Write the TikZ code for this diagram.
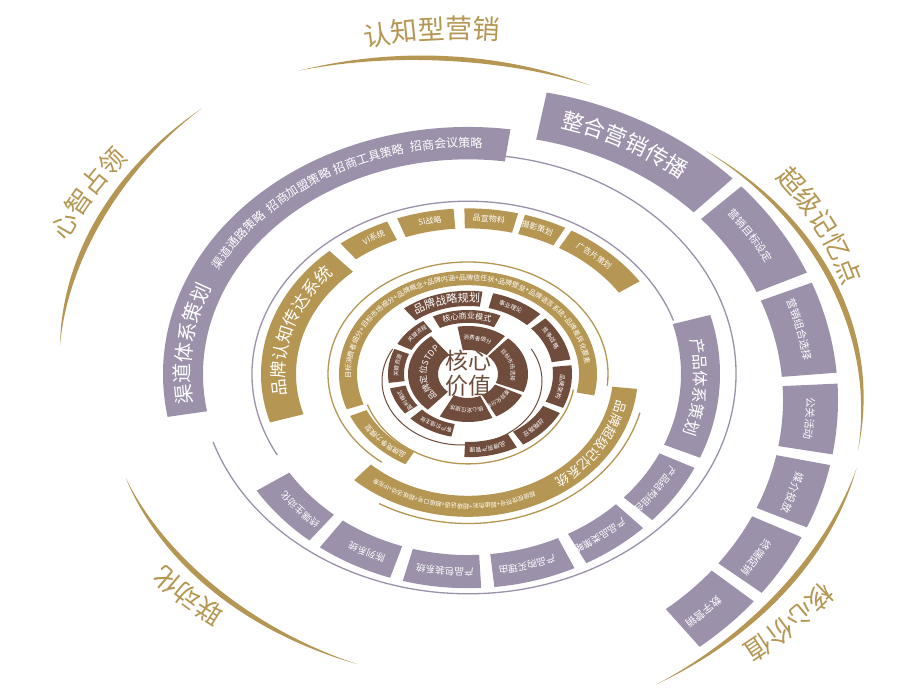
\documentclass[tikz,border=0pt]{standalone}
\usepackage{fontspec}
\setmainfont{Noto Sans CJK SC}
\usetikzlibrary{decorations.text}
\definecolor{cpurple}{RGB}{155,145,171}
\definecolor{cgold}{RGB}{181,150,82}
\definecolor{cbrown}{RGB}{112,76,60}
\tikzset{
  thinpurple/.style={draw=cpurple, line width=1.3},
  thingold/.style={draw=cgold, line width=1.3},
  thinbrown/.style={draw=cbrown, line width=1},
}
% ring centre, squash and radii (changed per ring)
\def\rcx{468}\def\rcy{325}\def\rk{0.8}\def\ri{30}\def\ro{60}
% text along an elliptic arc: centre angle, half span, radius, size, colour, text
\newcommand\arctext[6]{%
  \pgfmathsetmacro\ArcA{(#1)+(#2)}\pgfmathsetmacro\ArcB{(#1)-(#2)}\pgfmathsetmacro\ArcY{(#3)*\rk}%
  \path[shift={(\rcx,\rcy)},decorate,decoration={text along path,text align=center,
    text={|\fontsize{#4}{#4}\selectfont\color{#5}|#6}}]
    ({\ArcA}:{#3} and {\ArcY}) arc[start angle=\ArcA,end angle=\ArcB,x radius=#3,y radius=\ArcY];}
% filled ring piece: from, to, colour
\newcommand\segfill[3]{%
  \pgfmathsetmacro\SegYi{\ri*\rk}\pgfmathsetmacro\SegYo{\ro*\rk}%
  \fill[#3,shift={(\rcx,\rcy)}] ({#1}:{\ro} and {\SegYo}) arc[start angle=#1,end angle=#2,x radius=\ro,y radius=\SegYo]
    -- ({#2}:{\ri} and {\SegYi}) arc[start angle=#2,end angle=#1,x radius=\ri,y radius=\SegYi] -- cycle;}
% ring piece with its label
\newcommand\seg[5]{%
  \segfill{#1}{#2}{#3}%
  \pgfmathsetmacro\SegM{((#1)+(#2))/2}\pgfmathsetmacro\SegH{((#1)-(#2))/2+25}%
  \pgfmathsetmacro\SegR{(\ri+\ro)/2-0.38*(#4)}%
  \arctext{\SegM}{\SegH}{\SegR}{#4}{white}{#5}}
% thin elliptic arc: style, cx, cy, rx, squash, from, to
\newcommand\ellarc[7]{%
  \pgfmathsetmacro\ArcY{(#4)*(#5)}%
  \draw[#1,shift={(#2,#3)}] ({#6}:{#4} and {\ArcY}) arc[start angle=#6,end angle=#7,x radius=#4,y radius=\ArcY];}
% tapered outer gold arc: from, to, r1, r2, width
\def\ocx{459}\def\ocy{332}\def\ok{0.785}
\newcommand\crescent[5]{%
  \fill[cgold] plot[domain=0:1,samples=60,variable=\t]
    ({\ocx+((#3)+((#4)-(#3))*\t)*cos((#1)+((#2)-(#1))*\t)},{\ocy+\ok*((#3)+((#4)-(#3))*\t)*sin((#1)+((#2)-(#1))*\t)})
    -- plot[domain=1:0,samples=60,variable=\t]
    ({\ocx+((#3)+((#4)-(#3))*\t-(#5)*sin(180*\t))*cos((#1)+((#2)-(#1))*\t)},{\ocy+\ok*((#3)+((#4)-(#3))*\t-(#5)*sin(180*\t))*sin((#1)+((#2)-(#1))*\t)}) -- cycle;}
\begin{document}
\begin{tikzpicture}[x=1pt,y=1pt]
\useasboundingbox (0,0) rectangle (901,699);
\fill[white] (0,0) rectangle (901,699);

% outer gold arcs and their words
\crescent{113}{70}{410}{382}{6}
\crescent{48}{-15}{370}{413}{6}
\crescent{-18}{-64}{418}{450}{6}
\crescent{255}{203}{392}{362}{6}
\crescent{176}{128}{400}{418}{6}
\begin{scope}
  \def\rcx{459}\def\rcy{332}\def\rk{0.785}
  \arctext{94}{40}{418}{27}{cgold}{认知型营销}
  \arctext{24}{40}{398}{26}{cgold}{超级记忆点}
  \arctext{-41.5}{40}{455}{26}{cgold}{核心价值}
  \arctext{224}{40}{388}{26}{cgold}{联动化}
  \arctext{152}{40}{424}{26}{cgold}{心智占领}
\end{scope}

% outer purple ring
\begin{scope}
  \def\rcx{478}\def\rcy{299}\def\rk{0.87}\def\ri{305}\def\ro{360}
  \seg{79}{45}{cpurple}{22}{整合营销传播}
  \seg{43}{24}{cpurple}{10.5}{营销目标设定}
  \seg{22}{5}{cpurple}{10.5}{营销组合选择}
  \seg{3}{-10}{cpurple}{10.5}{公关活动}
  \seg{-12}{-24}{cpurple}{10.5}{媒介投放}
  \seg{-26}{-38}{cpurple}{10.5}{终端促销}
  \seg{-40}{-52}{cpurple}{10.5}{数字营销}
\end{scope}

% channel ring
\begin{scope}
  \def\rk{0.81}\def\ri{265}\def\ro{305}
  \segfill{190}{82}{cpurple}
  \arctext{173}{40}{278}{20}{white}{渠道体系策划}
  \arctext{145}{20}{280}{12}{white}{渠道通路策略}
  \arctext{127.5}{20}{280}{12}{white}{招商加盟策略}
  \arctext{111}{20}{280}{12}{white}{招商工具策略}
  \arctext{94.5}{20}{280}{12}{white}{招商会议策略}
\end{scope}
\ellarc{thinpurple}{468}{325}{268}{0.82}{82}{-162}

% product ring
\ellarc{thinpurple}{468}{325}{216}{0.8}{208}{18}
\begin{scope}
  \def\rk{0.85}\def\ri{213}\def\ro{252}
  \seg{16}{-23}{cpurple}{16}{产品体系策划}
  \seg{-26}{-43}{cpurple}{9.5}{产品结构组合}
  \seg{-46}{-62}{cpurple}{9.5}{产品品类策略}
  \seg{-65}{-84}{cpurple}{9.5}{产品购买理由}
  \seg{-87}{-105}{cpurple}{9.5}{产品包装系统}
  \seg{-108}{-126}{cpurple}{9.5}{陈列系统}
  \seg{-129}{-147}{cpurple}{9.5}{终端生动化}
\end{scope}

% brand communication ring
\begin{scope}
  \def\ri{172}\def\ro{207}
  \seg{197}{132}{cgold}{17}{品牌认知传达系统}
  \def\ri{182}
  \seg{128}{113}{cgold}{8}{VI系统}
  \seg{110}{94}{cgold}{8}{SI战略}
  \seg{91}{76}{cgold}{8}{品宣物料}
  \seg{74}{62}{cgold}{8}{摄影策划}
  \seg{60}{34}{cgold}{8}{广告片策划}
\end{scope}

% super memory ring
\ellarc{thingold}{468}{325}{178}{0.84}{240}{345}
\begin{scope}
  \def\rk{0.84}\def\ri{145}\def\ro{170}
  \segfill{-6}{-132}{cgold}
  \arctext{-33}{30}{152.5}{13}{white}{品牌超级记忆系统}
  \arctext{-96}{40}{155}{6}{white}{超级视觉符号+超级色彩+超级话语+超级口号+超级活动+IP形象}
\end{scope}
\ellarc{thingold}{468}{325}{140}{0.8}{-6}{232}

% brand core ring
\ellarc{thingold}{468}{325}{107}{0.84}{200}{350}
\begin{scope}
  \def\ri{111}\def\ro{129}
  \seg{200}{-12}{cgold}{7}{目标消费者细分+目标市场细分+品牌概念+品牌内涵+品牌信任状+品牌壁垒+品牌语言系统+品牌差异化要素}
  \seg{241}{204}{cgold}{7}{品牌竞争力模型}
\end{scope}

% brown rings
\begin{scope}
  \def\ri{85}\def\ro{104}
  \seg{128}{82}{cbrown}{11}{品牌战略规划}
  \seg{76}{46}{cbrown}{6}{事业理论}
  \seg{42}{10}{cbrown}{6}{竞争战略}
  \seg{6}{-24}{cbrown}{6}{品牌架构}
  \seg{-28}{-58}{cbrown}{6}{战略路径}
  \seg{-62}{-92}{cbrown}{6}{品牌资产管理}
\end{scope}
\ellarc{thinbrown}{462}{318}{80}{0.8}{150}{390}
\begin{scope}
  \def\ri{64}\def\ro{80}
  \seg{116}{66}{cbrown}{8}{核心商业模式}
  \seg{152}{124}{cbrown}{5.5}{关键流程}
  \seg{188}{157}{cbrown}{5.5}{关键资源}
  \seg{218}{193}{cbrown}{5.5}{盈利模式}
  \seg{258}{224}{cbrown}{5.5}{客户价值主张}
\end{scope}
\begin{scope}
  \def\ri{30}\def\ro{60}
  \seg{228}{128}{cbrown}{8.5}{品牌定位STDP}
  \seg{100}{52}{cbrown}{5.5}{消费者细分}
  \seg{48}{-22}{cbrown}{5.5}{目标市场选择}
  \seg{-26}{-62}{cbrown}{5.5}{差异化分析}
  \seg{-66}{-118}{cbrown}{5.5}{核心定位提炼}
\end{scope}
\node[text=cbrown,font=\fontsize{23}{25}\selectfont,align=center] (core) at (468,326) {核心\\价值};
\end{tikzpicture}
\end{document}
